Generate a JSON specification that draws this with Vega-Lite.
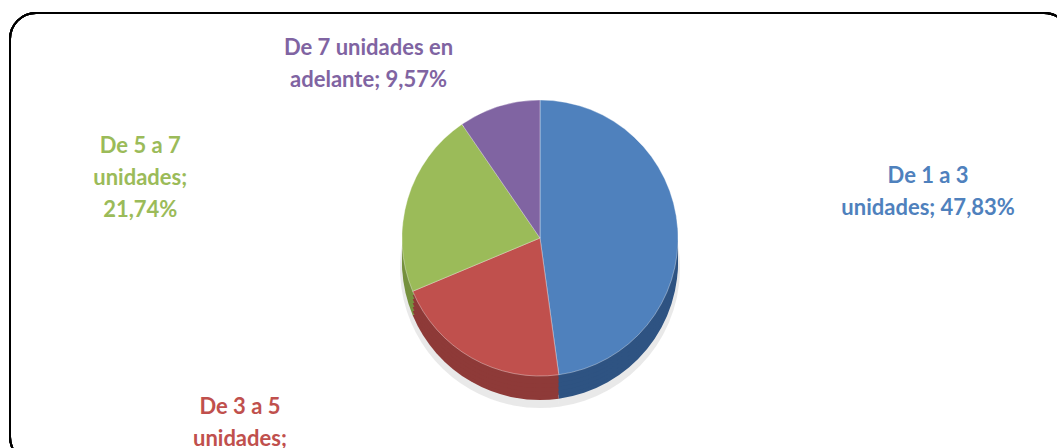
{
  "$schema": "https://vega.github.io/schema/vega-lite/v6.json",
  "width": 1060,
  "height": 450,
  "autosize": {"type": "none"},
  "padding": {"left": 10, "top": 13, "right": 0, "bottom": 0},
  "background": "white",
  "config": {
    "view": {"stroke": null},
    "text": {"font": "Lato", "fontWeight": "bold", "fontSize": 22, "lineHeight": 32, "align": "center", "baseline": "middle", "lineBreak": "\n"}
  },
  "data": {
    "values": [
      {"cat": "De 1 a 3 unidades", "share": 47.83, "idx": 1, "label": "De 1 a 3\nunidades; 47,83%"},
      {"cat": "De 3 a 5 unidades", "share": 20.87, "idx": 2, "label": "De  3 a 5\nunidades;\n20,87%"},
      {"cat": "De 5 a 7 unidades", "share": 21.74, "idx": 3, "label": "De 5 a 7\nunidades;\n21,74%"},
      {"cat": "De 7 unidades en adelante", "share": 9.57, "idx": 4, "label": "De 7 unidades en\nadelante; 9,57%"}
    ]
  },
  "encoding": {
    "theta": {"field": "share", "type": "quantitative", "stack": true},
    "order": {"field": "idx", "type": "quantitative"}
  },
  "resolve": {"scale": {"color": "independent"}},
  "layer": [
    {"mark": {"type": "rect", "fill": null, "stroke": "black", "strokeWidth": 2, "cornerRadius": 26}, "encoding": {}},
    {"mark": {"type": "arc", "radius": 140, "yOffset": 30, "color": "#bfbfbf", "opacity": 0.35}},
    {"mark": {"type": "arc", "radius": 138, "yOffset": 24}, "encoding": {"color": {"field": "cat", "type": "nominal", "legend": null, "sort": {"field": "idx"}, "scale": {"range": ["#2e5382", "#8e3a38", "#76913f", "#5e4a7a"]}}}},
    {"mark": {"type": "arc", "radius": 138, "yOffset": 20}, "encoding": {"color": {"field": "cat", "type": "nominal", "legend": null, "sort": {"field": "idx"}, "scale": {"range": ["#2e5382", "#8e3a38", "#76913f", "#5e4a7a"]}}}},
    {"mark": {"type": "arc", "radius": 138, "yOffset": 16}, "encoding": {"color": {"field": "cat", "type": "nominal", "legend": null, "sort": {"field": "idx"}, "scale": {"range": ["#2e5382", "#8e3a38", "#76913f", "#5e4a7a"]}}}},
    {"mark": {"type": "arc", "radius": 138, "yOffset": 12}, "encoding": {"color": {"field": "cat", "type": "nominal", "legend": null, "sort": {"field": "idx"}, "scale": {"range": ["#2e5382", "#8e3a38", "#76913f", "#5e4a7a"]}}}},
    {"mark": {"type": "arc", "radius": 138, "yOffset": 8}, "encoding": {"color": {"field": "cat", "type": "nominal", "legend": null, "sort": {"field": "idx"}, "scale": {"range": ["#2e5382", "#8e3a38", "#76913f", "#5e4a7a"]}}}},
    {"mark": {"type": "arc", "radius": 138, "yOffset": 4}, "encoding": {"color": {"field": "cat", "type": "nominal", "legend": null, "sort": {"field": "idx"}, "scale": {"range": ["#2e5382", "#8e3a38", "#76913f", "#5e4a7a"]}}}},
    {"mark": {"type": "arc", "radius": 138, "stroke": "#ffffff", "strokeOpacity": 0.35, "strokeWidth": 1}, "encoding": {"color": {"field": "cat", "type": "nominal", "legend": null, "sort": {"field": "idx"}, "scale": {"range": ["#4f81bd", "#c0504d", "#9bbb59", "#8064a2"]}}}},
    {"mark": {"type": "text", "radius": 389, "dy": -35, "color": "#4f81bd"}, "encoding": {"text": {"condition": {"test": "datum.idx === 1", "field": "label"}, "value": ""}}},
    {"mark": {"type": "text", "radius": 230, "dx": -186, "dy": -31, "color": "#c0504d"}, "encoding": {"text": {"condition": {"test": "datum.idx === 2", "field": "label"}, "value": ""}}},
    {"mark": {"type": "text", "radius": 300, "dx": -112, "dy": -7, "color": "#9bbb59"}, "encoding": {"text": {"condition": {"test": "datum.idx === 3", "field": "label"}, "value": ""}}},
    {"mark": {"type": "text", "radius": 184, "dx": -117, "dy": -14, "color": "#8064a2"}, "encoding": {"text": {"condition": {"test": "datum.idx === 4", "field": "label"}, "value": ""}}}
  ]
}
